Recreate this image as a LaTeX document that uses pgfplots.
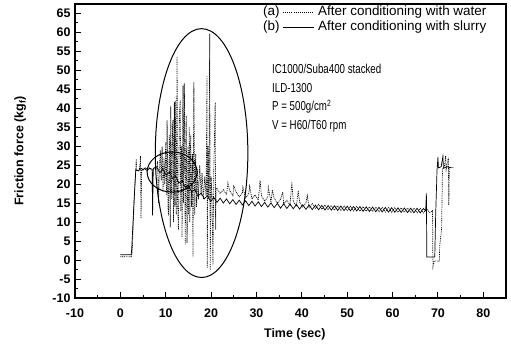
\documentclass[border=0pt]{standalone}
\usepackage{pgfplots}
\pgfplotsset{compat=1.18}
\usepackage{fontspec}
\setmainfont{Liberation Sans}
\newcommand\tickfont{\fontsize{12.5}{14}\selectfont\bfseries}
\newcommand\legfont{\fontsize{13.5}{15}\selectfont}
\newcommand\annfont{\fontsize{13}{15}\selectfont}
\begin{document}
\begin{tikzpicture}
\begin{axis}[
  scale only axis, width=431bp, height=294bp,
  xmin=-10, xmax=85, ymin=-10, ymax=67.5,
  xtick={-10,0,...,80}, ytick={-10,-5,...,65},
  minor x tick num=1, minor y tick num=1,
  tick align=inside, xtick pos=left, ytick pos=left,
  major tick length=6bp, minor tick length=3bp,
  axis line style={line width=1.2bp},
  every tick/.style={black, line width=1bp},
  /pgf/number format/assume math mode=true,
  tick label style={font=\tickfont},
  xticklabel={\bfseries\pgfmathprintnumber{\tick}},
  yticklabel={\bfseries\pgfmathprintnumber{\tick}},
  xticklabel style={yshift=-7bp},
  yticklabel style={xshift=-1bp},
  every axis x label/.style={at={(axis description cs:0.51,-0.122)},anchor=center},
  every axis y label/.style={at={(axis description cs:-0.127,0.5)},rotate=90,anchor=center},
  xlabel={\tickfont Time (sec)},
  ylabel={\tickfont Friction force (kg\textsubscript{f})},
]
% (a) After conditioning with water (dotted)
\addplot[black, line width=0.7bp, dash pattern=on 0.9bp off 0.9bp] coordinates {
(0,0.9)(2.4,0.9)(2.6,2)(3.1,18)(3.4,24)(3.5,26.6)(3.6,23.5)(4.2,23.8)(4.45,27.4)(4.55,11)(4.7,23.8)(5.2,24.2)(5.8,23.6)(6.4,24.3)(7.0,23.7)(7.6,24.2)
(8.0,24)(8.2,26)(8.4,15)(8.6,24)(8.8,29)(9.0,21)(9.2,30)(9.4,18)(9.6,27)(9.8,20)(10.0,31)(10.2,17)(10.3,36.8)(10.5,14)(10.6,11.8)(10.8,33)(11.0,8.7)(11.1,40.5)(11.3,16)(11.5,35)(11.6,37)(11.7,10)(11.9,41.6)(12.0,14)(12.1,42)(12.3,12)(12.5,53.7)(12.6,16)(12.8,7.9)(13.0,38)(13.2,42)(13.3,13)(13.5,30)(13.6,6)(13.8,46)(13.9,15)(14.1,46.6)(14.3,4)(14.5,38)(14.7,4.5)(14.9,30)(15.0,12)(15.2,35)(15.3,10)(15.5,33)(15.7,14)(15.9,28)(16.0,0.8)(16.2,47)(16.4,12)(16.6,28)(16.8,14)(17.0,24)(17.2,16)(17.5,25)(17.8,17)(18.0,23)(18.3,16)(18.6,22)(18.9,17)(19.1,48.4)(19.15,-2.1)(19.3,30)(19.5,16)(19.7,59.7)(19.8,-2.6)(20.0,22)(20.2,17)(20.4,-1.3)(20.6,24)(20.9,41.6)(21.0,8)(21.1,19)
(21.3,18.84)(22.0,17.5)(22.7,18.56)(23.4,17.22)(23.7,20.3)(24.1,18.28)(24.8,16.94)(25.0,19.5)(25.5,18.0)(26.2,16.66)(26.9,17.72)(27.0,19.2)(27.6,16.38)(28.3,17.44)(28.5,19.5)(29.0,16.1)(29.7,17.16)(30.4,15.82)(30.8,21)(31.1,16.88)(31.8,15.54)(32.5,16.6)(32.6,19.2)(33.2,15.26)(33.5,18.5)(33.9,16.32)(34.6,14.98)(35.3,16.05)(35.8,17.9)(36.0,14.72)(36.7,15.79)(37.4,14.47)(37.8,20.5)(38.1,15.54)(38.8,14.22)(39.2,18.3)(39.5,15.29)(40.2,13.97)(40.9,15.07)(41.2,17)(41.6,13.78)(42.3,14.88)(43.0,13.58)(43.7,14.68)(44.4,13.38)(45.1,14.5)(45.8,13.25)(46.5,14.41)(47.2,13.16)(47.9,14.32)(48.6,13.08)(49.3,14.24)(50.0,13.0)(50.7,14.17)(51.4,12.94)(52.1,14.12)(52.8,12.89)(53.5,14.06)(54.2,12.83)(54.9,14.0)(55.6,12.78)(56.3,13.95)(57.0,12.72)(57.7,13.89)(58.4,12.66)(59.1,13.84)(59.8,12.61)(60.5,13.79)(61.2,12.57)(61.9,13.75)(62.6,12.53)(63.3,13.71)(64.0,12.49)(64.7,13.67)(65.4,12.45)(66.1,13.63)(66.8,12.41)(67.5,13.6)(68.2,12.5)(68.8,13)(68.9,-1.8)(69.2,-0.2)(70.3,-0.3)(70.4,4)(70.8,8)(71.0,24)(71.4,24.5)(71.7,27.5)(71.8,23.8)(72.3,27)(72.4,14.5)(72.5,24.5)(73.5,24.3)
};
% (b) After conditioning with slurry (solid)
\addplot[black, line width=0.7bp] coordinates {
(0,1.4)(2.4,1.4)(2.5,3)(3.0,15)(3.4,23.8)(4.0,23.5)(4.6,24.2)(5.0,23.7)(5.5,24.3)(6.0,23.8)(6.5,24.2)(7.0,23.9)(7.1,11.8)(7.25,24.1)(7.6,24.4)
(8.0,24.6)(8.7,23.05)(9.4,23.9)(10.1,22.35)(10.8,23.2)(11.5,21.48)(12.2,22.1)(12.9,20.32)(13.6,20.93)(14.3,19.15)(15.0,19.77)(15.7,17.98)(16.4,18.6)(17.1,16.85)(17.8,17.7)(18.5,16.15)(19.2,17.0)(19.9,15.45)(20.6,16.52)(21.3,15.22)(22.0,16.32)(22.7,15.02)(23.4,16.12)(24.1,14.83)(24.8,15.93)(25.5,14.65)(26.2,15.78)(26.9,14.51)(27.6,15.64)(28.3,14.37)(29.0,15.5)(29.7,14.23)(30.4,15.36)(31.1,14.09)(31.8,15.22)(32.5,13.95)(33.2,15.08)(33.9,13.81)(34.6,14.94)(35.3,13.68)(36.0,14.84)(36.7,13.6)(37.4,14.76)(38.1,13.51)(38.8,14.67)(39.5,13.43)(40.2,14.59)(40.9,13.36)(41.6,14.54)(42.3,13.31)(43.0,14.48)(43.7,13.25)(44.4,14.42)(45.1,13.2)(45.8,14.37)(46.5,13.14)(47.2,14.31)(47.9,13.08)(48.6,14.26)(49.3,13.03)(50.0,14.2)(50.7,12.97)(51.4,14.14)(52.1,12.92)(52.8,14.09)(53.5,12.86)(54.2,14.03)(54.9,12.8)(55.6,13.98)(56.3,12.75)(57.0,13.92)(57.7,12.69)(58.4,13.86)(59.1,12.64)(59.8,13.81)(60.5,12.59)(61.2,13.77)(61.9,12.55)(62.6,13.73)(63.3,12.51)(64.0,13.69)(64.7,12.47)(65.4,13.65)(66.1,12.43)(66.8,13.6)(67.3,13.0)(67.45,17.6)(67.55,0.8)(69.3,0.8)(69.5,12)(69.8,23.8)(70.0,27.1)(70.1,24.3)(70.7,24.6)(71.1,27.4)(71.2,24.2)(72.0,24.6)(73.0,24.3)
};
\draw[line width=1bp] (axis cs:17.9,28.2) ellipse [x radius=10.2, y radius=32.8];
\draw[line width=1bp] (axis cs:11.4,23.2) ellipse [x radius=5.5, y radius=5.3];
\end{axis}
% legend
\node[anchor=west, inner sep=0, font=\legfont] at ([xshift=188bp,yshift=-8bp]current axis.north west) {(a)};
\draw[black, line width=0.6bp, dash pattern=on 0.9bp off 1.2bp] ([xshift=208bp,yshift=-8bp]current axis.north west) -- ++(31bp,0);
\node[anchor=west, inner sep=0, font=\legfont] at ([xshift=243bp,yshift=-8bp]current axis.north west) {After conditioning with water};
\node[anchor=west, inner sep=0, font=\legfont] at ([xshift=188bp,yshift=-23bp]current axis.north west) {(b)};
\draw[black, line width=0.8bp] ([xshift=208bp,yshift=-23bp]current axis.north west) -- ++(31bp,0);
\node[anchor=west, inner sep=0, font=\legfont] at ([xshift=243bp,yshift=-23bp]current axis.north west) {After conditioning with slurry};
% annotation
\node[anchor=west, inner sep=0, font=\annfont] at ([xshift=197bp,yshift=-65bp]current axis.north west) {\scalebox{0.75}[1]{IC1000/Suba400 stacked}};
\node[anchor=west, inner sep=0, font=\annfont] at ([xshift=197bp,yshift=-84bp]current axis.north west) {\scalebox{0.75}[1]{ILD-1300}};
\node[anchor=west, inner sep=0, font=\annfont] at ([xshift=197bp,yshift=-103bp]current axis.north west) {\scalebox{0.75}[1]{P = 500g/cm\textsuperscript{2}}};
\node[anchor=west, inner sep=0, font=\annfont] at ([xshift=197bp,yshift=-122bp]current axis.north west) {\scalebox{0.75}[1]{V = H60/T60 rpm}};
\pgfresetboundingbox
\path[use as bounding box] (current axis.south west) ++(-75bp,-49bp) rectangle ++(511bp,347bp);
\end{tikzpicture}
\end{document}
